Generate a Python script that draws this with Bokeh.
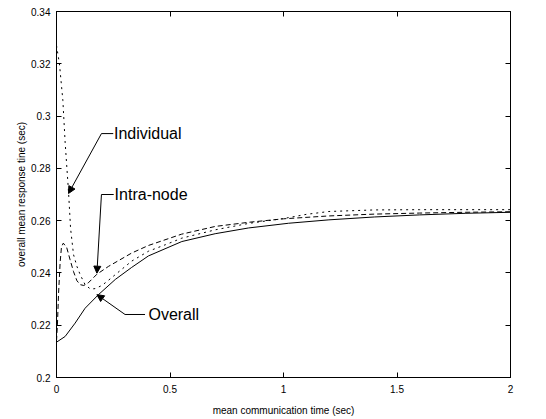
from bokeh.plotting import figure
from bokeh.models import LinearAxis, Arrow, NormalHead, FixedTicker, Range1d, CustomLabelingPolicy
from bokeh.core.properties import value
from bokeh.embed import file_html
from bokeh.resources import INLINE

# ---- data ----
x_ticks = [0, 0.5, 1, 1.5, 2]
x_tick_labels = ["0", "0.5", "1", "1.5", "2"]
y_ticks = [0.2, 0.22, 0.24, 0.26, 0.28, 0.3, 0.32, 0.34]
y_tick_labels = ["0.2", "0.22", "0.24", "0.26", "0.28", "0.3", "0.32", "0.34"]

overall_x = [0, 0.038, 0.082, 0.126, 0.185, 0.259, 0.331, 0.405, 0.552, 0.699, 0.846, 1.022, 1.2, 1.4, 1.6, 1.8, 2.0]
overall_y = [0.2135, 0.2157, 0.2208, 0.2265, 0.2317, 0.2375, 0.2421, 0.2465, 0.2520, 0.2550, 0.2572, 0.2590, 0.2603, 0.2614, 0.2622, 0.2628, 0.2632]

intra_x = [0, 0.004, 0.009, 0.016, 0.022, 0.03, 0.045, 0.06, 0.075, 0.09, 0.105, 0.12, 0.14, 0.178, 0.229, 0.331, 0.405, 0.55, 0.7, 0.85, 1.0, 1.2, 1.4, 1.6, 1.8, 2.0]
intra_y = [0.214, 0.220, 0.232, 0.244, 0.250, 0.2514, 0.2497, 0.245, 0.2405, 0.237, 0.2355, 0.2352, 0.2362, 0.2395, 0.2425, 0.2476, 0.2505, 0.2548, 0.2578, 0.2594, 0.2607, 0.2618, 0.2625, 0.2629, 0.2632, 0.2634]

indiv_x = [0, 0.013, 0.028, 0.038, 0.053, 0.062, 0.075, 0.09, 0.104, 0.126, 0.15, 0.17, 0.2, 0.229, 0.331, 0.405, 0.48, 0.552, 0.7, 0.85, 1.0, 1.1, 1.2, 1.4, 1.6, 1.8, 2.0]
indiv_y = [0.327, 0.320, 0.306, 0.290, 0.271, 0.257, 0.247, 0.2425, 0.2394, 0.2355, 0.2338, 0.234, 0.2352, 0.2372, 0.2445, 0.2483, 0.2508, 0.2533, 0.2565, 0.259, 0.2608, 0.2624, 0.2635, 0.2641, 0.2642, 0.2642, 0.2642]

labels = ["Individual", "Intra-node", "Overall"]
label_x = [0.253, 0.256, 0.405]
label_y = [0.2933, 0.2700, 0.2241]
# leader lines: horizontal stub from corner to label start, arrow from corner to tip
corner_x = [0.198, 0.198, 0.302]
corner_y = [0.2933, 0.2700, 0.2241]
stub_end_x = [0.25, 0.252, 0.39]
tip_x = [0.053, 0.178, 0.178]
tip_y = [0.2704, 0.2399, 0.2317]

FONT = "Liberation Sans"

p = figure(frame_width=454, frame_height=366, output_backend="svg", toolbar_location=None,
           x_range=Range1d(0, 2), y_range=Range1d(0.2, 0.34),
           min_border_left=56, min_border_right=10, min_border_top=6, min_border_bottom=38,
           x_axis_label="mean communication time (sec)",
           y_axis_label="overall mean response tine (sec)")
p.grid.visible = False
p.outline_line_color = "black"
p.outline_line_width = 1
p.background_fill_color = "white"
p.border_fill_color = "white"

no_labels = CustomLabelingPolicy(code="for (const i of indices) indices.unset(i); return indices")

def style_axis(ax, ticks, labs, show):
    ax.ticker = FixedTicker(ticks=ticks)
    ax.major_tick_in = 5
    ax.major_tick_out = 0
    ax.minor_tick_line_color = None
    ax.axis_line_color = "black"
    ax.major_tick_line_color = "black"
    ax.major_label_text_font = FONT
    ax.major_label_text_color = "black"
    ax.major_label_text_font_size = "10px"
    ax.axis_label_text_font = FONT
    ax.axis_label_text_font_style = "normal"
    ax.axis_label_text_font_size = "10px"
    ax.axis_label_text_color = "black"
    if show:
        ax.major_label_overrides = dict(zip(ticks, labs))
    else:
        ax.major_label_policy = no_labels
        ax.major_label_standoff = 0

style_axis(p.xaxis[0], x_ticks, x_tick_labels, True)
style_axis(p.yaxis[0], y_ticks, y_tick_labels, True)
p.xaxis[0].major_label_standoff = 7
p.xaxis[0].axis_label_standoff = 9
p.yaxis[0].major_label_standoff = 6
p.yaxis[0].axis_label_standoff = 1

top = LinearAxis()
style_axis(top, x_ticks, x_tick_labels, False)
p.add_layout(top, "above")
right = LinearAxis()
style_axis(right, y_ticks, y_tick_labels, False)
p.add_layout(right, "right")

p.line(overall_x, overall_y, line_color="black", line_width=1)
p.line(intra_x, intra_y, line_color="black", line_width=1, line_dash="5 3")
p.line(indiv_x, indiv_y, line_color="black", line_width=1, line_dash="2 4")

p.segment(x0=corner_x, y0=corner_y, x1=stub_end_x, y1=corner_y, line_color="black", line_width=1)
for cx, cy, tx, ty in zip(corner_x, corner_y, tip_x, tip_y):
    p.add_layout(Arrow(end=NormalHead(size=7, fill_color="black", line_color="black", line_width=1),
                       x_start=cx, y_start=cy, x_end=tx, y_end=ty,
                       line_color="black", line_width=1))

p.text(x=label_x, y=label_y, text=labels, text_font=value(FONT), text_font_size="16px",
       text_align="left", text_baseline="middle", text_color="black")

open("out.html", "w").write(file_html(p, INLINE))
